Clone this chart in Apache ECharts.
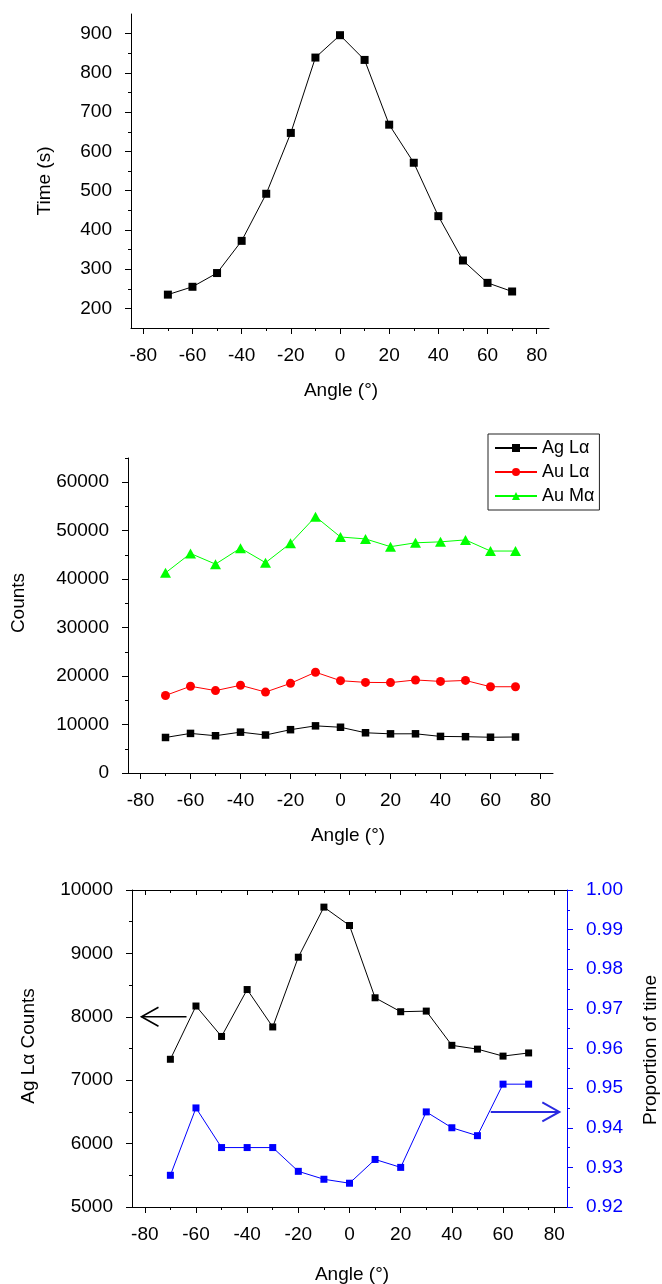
<!DOCTYPE html>
<html><head><meta charset="utf-8">
<script src="https://cdn.jsdelivr.net/npm/echarts@6/dist/echarts.min.js"></script>
<style>html,body{margin:0;padding:0;background:#fff}#c{width:662px;height:1284px}</style>
</head><body><div id="c"></div>
<script>
// ---- data ----
const angles = [-70,-60,-50,-40,-30,-20,-10,0,10,20,30,40,50,60,70];
const timeSec = [235,255,290,372,492,647,839,896,833,668,571,435,322,265,243];
const agLa = [7330,8170,7690,8430,7840,8940,9730,9440,8300,8080,8090,7550,7490,7380,7430];
const auLa = [16000,17900,17000,18100,16700,18500,20800,19050,18700,18650,19200,18900,19100,17800,17800];
const auMa = [41300,45300,43100,46400,43400,47400,52900,48700,48300,46700,47500,47700,48100,45800,45800];
const propTime = [0.928,0.945,0.935,0.935,0.935,0.929,0.927,0.926,0.932,0.930,0.944,0.940,0.938,0.951,0.951];

// ---- tick labels ----
const angleTicks = [-80,-60,-40,-20,0,20,40,60,80];
const angleMinor = [-70,-50,-30,-10,10,30,50,70];
const timeTicks = [200,300,400,500,600,700,800,900];
const timeMinor = [250,350,450,550,650,750,850];
const countTicks = [0,10000,20000,30000,40000,50000,60000];
const countMinor = [5000,15000,25000,35000,45000,55000,65000];
const agTicks = [5000,6000,7000,8000,9000,10000];
const agMinor = [5500,6500,7500,8500,9500];
const propTicks = [0.92,0.93,0.94,0.95,0.96,0.97,0.98,0.99,1.00];
const propMinor = [0.925,0.935,0.945,0.955,0.965,0.975,0.985,0.995];

// annotation arrows (data coordinates): [tailX, tipX, y]
const arrowLeft = [-63.7, -81.3, 8000];
const arrowRight = [55.2, 82, 0.944];

const FONT = 'Liberation Sans, Arial, sans-serif';
const FS = 19;

function plain(v) { return String(v); }

function axisPair(grid, min, max, major, minor, opts) {
  opts = opts || {};
  const color = opts.color || '#000';
  const pos = opts.position;
  const inside = !!opts.inside;
  const base = {
    type: 'value', gridIndex: grid, min: min, max: max, position: pos,
    splitLine: {show: false}, splitArea: {show: false}
  };
  const a = Object.assign({}, base, {
    axisLine: {show: true, onZero: false, lineStyle: {color: color, width: 1}},
    axisTick: {show: true, inside: inside, length: opts.majorLen || 6, customValues: major, lineStyle: {color: color, width: 1}},
    axisLabel: opts.noLabel ? {show: false} : {
      show: true, customValues: major, margin: opts.margin || 12, color: color,
      fontSize: FS, fontFamily: FONT, formatter: opts.formatter || plain
    }
  });
  const b = Object.assign({}, base, {
    axisLine: {show: false, onZero: false},
    axisTick: {show: true, inside: inside, length: opts.minorLen || 3, customValues: minor, lineStyle: {color: color, width: 1}},
    axisLabel: {show: false}
  });
  return [a, b];
}

const xAxis = [].concat(
  axisPair(0, -85, 85, angleTicks, angleMinor, {position: 'bottom', margin: 18}),
  axisPair(1, -85, 85, angleTicks, angleMinor, {position: 'bottom', margin: 18}),
  axisPair(2, -85, 85, angleTicks, angleMinor, {position: 'bottom', margin: 18}),
  axisPair(2, -85, 85, angleTicks, angleMinor, {position: 'top', inside: true, noLabel: true, majorLen: 5, minorLen: 3})
);
// x indices: 0 major g0, 2 major g1, 4 major g2
const yAxis = [].concat(
  axisPair(0, 150, 950, timeTicks, timeMinor, {position: 'left', margin: 19}),
  axisPair(1, 0, 65000, countTicks, countMinor, {position: 'left', margin: 19}),
  axisPair(2, 5000, 10000, agTicks, agMinor, {position: 'left', margin: 19}),
  axisPair(2, 0.92, 1.00, propTicks, propMinor, {position: 'right', margin: 19, color: '#0000ff',
    formatter: function (v) { return v.toFixed(2); }})
);
// y indices: 0 time, 2 counts, 4 ag, 6 prop

function pts(vals) { return angles.map(function (a, i) { return [a, vals[i]]; }); }
function lineSeries(name, xi, yi, vals, color, symbol, size) {
  return {
    type: 'line', name: name, xAxisIndex: xi, yAxisIndex: yi, data: pts(vals),
    symbol: symbol, symbolSize: size, showSymbol: true,
    lineStyle: {color: color, width: 1}, itemStyle: {color: color},
    emphasis: {disabled: true}, animation: false, z: 3
  };
}

const series = [
  lineSeries('Time', 0, 0, timeSec, '#000', 'rect', 8),
  lineSeries('Ag L\u03b1', 2, 2, agLa, '#000', 'rect', 7.5),
  lineSeries('Au L\u03b1', 2, 2, auLa, '#ff0000', 'circle', 9),
  lineSeries('Au M\u03b1', 2, 2, auMa, '#00ff00', 'triangle', [11, 10]),
  lineSeries('Ag L\u03b1 Counts', 4, 4, agLa, '#000', 'rect', 7),
  lineSeries('Proportion of time', 4, 6, propTime, '#0000ff', 'rect', 7)
];

function vtitle(text, x, y, color) {
  return {type: 'text', x: x, y: y, rotation: Math.PI / 2,
    style: {text: text, x: 0, y: 0, align: 'center', verticalAlign: 'middle', fill: color || '#000', font: FS + 'px ' + FONT}};
}
function htitle(text, x, y) {
  return {type: 'text', x: x, y: y,
    style: {text: text, x: 0, y: 0, align: 'center', verticalAlign: 'middle', fill: '#000', font: FS + 'px ' + FONT}};
}

const option = {
  backgroundColor: '#fff',
  animation: false,
  grid: [
    {left: 131, top: 14, width: 418, height: 314},
    {left: 128, top: 458, width: 425, height: 315},
    {left: 132, top: 890, width: 435, height: 317}
  ],
  xAxis: xAxis,
  yAxis: yAxis,
  legend: {
    orient: 'vertical', left: 488, top: 434, padding: [5, 5, 5, 6], itemGap: 6,
    itemWidth: 42, itemHeight: 10, borderColor: '#222', borderWidth: 1,
    textStyle: {fontSize: 18, fontFamily: FONT, color: '#000'},
    data: ['Ag L\u03b1', 'Au L\u03b1', 'Au M\u03b1'], selectedMode: false
  },
  series: series,
  graphic: [
    vtitle('Time (s)', 45, 181),
    htitle('Angle (\u00b0)', 341, 391),
    vtitle('Counts', 19, 603),
    htitle('Angle (\u00b0)', 348, 836),
    vtitle('Ag L\u03b1 Counts', 29, 1046),
    vtitle('Proportion of time', 651, 1050, '#000'),
    htitle('Angle (\u00b0)', 352, 1275)
  ]
};

const chart = echarts.init(document.getElementById('c'), null, {renderer: 'canvas'});
chart.setOption(option);

function arrowGraphic(spec, xi, yi, color, width) {
  const tail = chart.convertToPixel({xAxisIndex: xi, yAxisIndex: yi}, [spec[0], spec[2]]);
  const tip = chart.convertToPixel({xAxisIndex: xi, yAxisIndex: yi}, [spec[1], spec[2]]);
  const dir = tip[0] > tail[0] ? 1 : -1;
  const depth = 17, half = 9.5;
  return [
    {type: 'line', shape: {x1: tail[0], y1: tail[1], x2: tip[0], y2: tip[1]}, style: {stroke: color, lineWidth: width}, z: 10},
    {type: 'polyline', shape: {points: [[tip[0] - dir * depth, tip[1] - half], [tip[0], tip[1]], [tip[0] - dir * depth, tip[1] + half]]},
      style: {stroke: color, lineWidth: width, fill: null}, z: 10}
  ];
}
chart.setOption({
  graphic: option.graphic.concat(
    arrowGraphic(arrowLeft, 4, 4, '#000', 1.6),
    arrowGraphic(arrowRight, 4, 6, '#2a2ae0', 2)
  )
});
</script>
</body></html>
